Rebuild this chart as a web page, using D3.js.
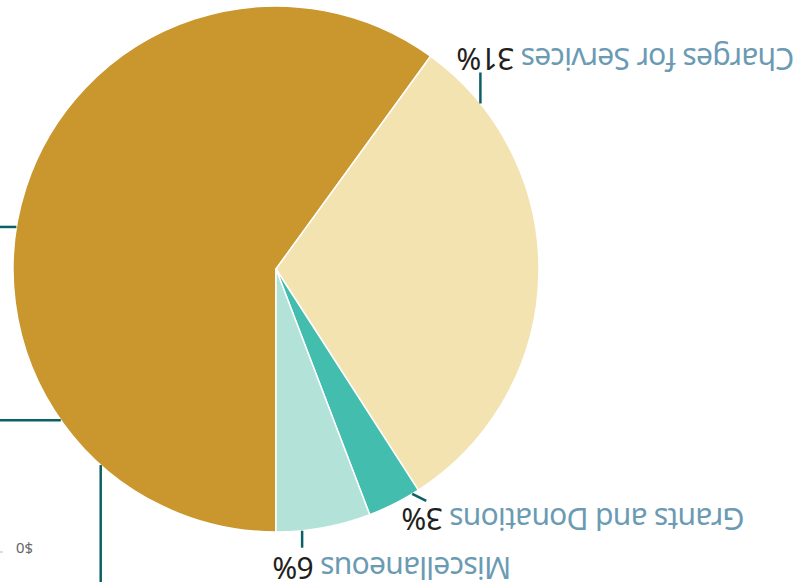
<!DOCTYPE html>
<html>
<head>
<meta charset="utf-8">
<script src="https://cdn.jsdelivr.net/npm/d3@7"></script>
<style>
  body { margin: 0; background: #fff; }
  svg { display: block; }
</style>
</head>
<body>
<svg id="chart" width="807" height="582"></svg>
<script>
// data
var categories = ['', 'Charges for Services', 'Grants and Donations', 'Miscellaneous']
var values = [60.0, 30.9, 3.3, 5.8]
var pctLabels = ['', '31%', '3%', '6%']
var axisLabels = ['$0']

var colors = ['#c9972d', '#f3e3b1', '#43bdad', '#b3e2d9']

// layout (the picture is shown turned upside down)
var W = 807, H = 582
var cx = 531, cy = 313, R = 263
var leaderColor = '#0b6066'

// leader lines: slice index, angle on rim (deg from 12 o'clock), then offset
var leaders = [
  { i: 0, a: 41.8, dx: 0, dy: -140 },
  { i: 0, a: 54.9, dx: 80, dy: 0 },
  { i: 0, a: 99.2, dx: 30, dy: 0 },
  { i: 1, a: 231, dx: 0, dy: 31 },
  { i: 2, a: 328.8, dx: -14, dy: -7 },
  { i: 3, a: 354.3, dx: 0, dy: -17 }
]
// label anchors (right end of the percent text, baseline)
var labelPos = [null, { x: 350, y: 534 }, { x: 405, y: 74 }, { x: 534, y: 25 }]

var svg = d3.select('#chart')
var root = svg.append('g')
              .attr('transform', 'rotate(180,' + W / 2 + ',' + H / 2 + ')')

var pie = d3.pie().sort(null).value(function (d) { return d })
var arc = d3.arc().innerRadius(0).outerRadius(R)

var g = root.append('g').attr('transform', 'translate(' + cx + ',' + cy + ')')

g.selectAll('path.slice')
 .data(pie(values))
 .enter()
 .append('path')
 .attr('class', 'slice')
 .attr('d', arc)
 .style('fill', function (d, i) { return colors[i] })
 .style('stroke', '#fff')
 .style('stroke-width', 1.5)

leaders.forEach(function (l) {
  var p = d3.pointRadial(l.a * Math.PI / 180, R)
  g.append('line')
   .attr('x1', p[0])
   .attr('y1', p[1])
   .attr('x2', p[0] + l.dx)
   .attr('y2', p[1] + l.dy)
   .style('stroke', leaderColor)
   .style('stroke-width', 2.5)
})

categories.forEach(function (name, i) {
  if (!labelPos[i]) return
  var t = root.append('text')
              .attr('x', labelPos[i].x)
              .attr('y', labelPos[i].y)
              .attr('text-anchor', 'end')
              .attr('font-family', 'Noto Sans, sans-serif')
              .attr('font-size', 30)
              .style('letter-spacing', '-0.7px')
  t.append('tspan').style('fill', '#6b9bb3').text(name + ' ')
  t.append('tspan').style('fill', '#231f20').text(pctLabels[i])
})

// stray axis label from a neighbouring chart
root.append('text')
    .attr('x', 774)
    .attr('y', 39)
    .attr('font-family', 'Noto Sans, sans-serif')
    .attr('font-size', 15)
    .style('fill', '#666')
    .text(axisLabels[0])

root.append('line')
    .attr('x1', 804).attr('y1', 30)
    .attr('x2', 807).attr('y2', 30)
    .style('stroke', '#bbb')
    .style('stroke-width', 1)
</script>
</body>
</html>
